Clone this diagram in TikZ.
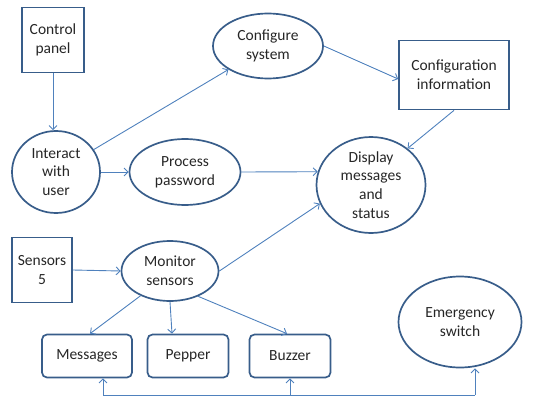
\documentclass[tikz,border=0pt]{standalone}
\usepackage{fontspec}
\setmainfont{Carlito}
\usepackage{tikz}
\usetikzlibrary{arrows.meta}
\usetikzlibrary{shapes.geometric}
\definecolor{edgeblue}{RGB}{56,93,138}
\definecolor{lineblue}{RGB}{79,129,189}
\tikzset{
  box/.style={draw=edgeblue, line width=1.7pt, inner sep=0pt, align=center},
  rbox/.style={box, rounded corners=5pt},
  oval/.style={ellipse, draw=edgeblue, line width=1.7pt, inner sep=0pt, align=center},
  link/.style={draw=lineblue, line width=0.9pt, >={Straight Barb[length=4pt,width=8pt]}}
}
\begin{document}
\begin{tikzpicture}[x=1pt, y=-1pt, font=\fontsize{15.5}{18.8}\selectfont, text=black!85]
      \useasboundingbox (0,0) rectangle (537,396);
      % boxes and ovals
      \node[box, minimum width=62pt, minimum height=65pt] (ctrl) at (53,40) {Control\\panel};
      \node[oval, minimum width=88pt, minimum height=82pt] (inter) at (56,172) {Interact\\with\\user};
      \node[oval, minimum width=111pt, minimum height=66pt] (proc) at (185,172) {Process\\password};
      \node[oval, minimum width=110pt, minimum height=65pt] (conf) at (268,46) {Configure\\system};
      \node[box, minimum width=110pt, minimum height=69pt] (info) at (454,75) {Configuration\\information};
      \node[oval, minimum width=109pt, minimum height=96pt] (disp) at (371,185) {Display\\messages\\and\\status};
      \node[box, minimum width=60pt, minimum height=65pt] (sens) at (42,270) {Sensors\\5};
      \node[oval, minimum width=97pt, minimum height=60pt] (mon) at (170,271) {Monitor\\sensors};
      \node[rbox, minimum width=90pt, minimum height=43pt] (msg) at (87,356) {Messages};
      \node[rbox, minimum width=81pt, minimum height=43pt] (pep) at (188,356) {Pepper};
      \node[rbox, minimum width=81pt, minimum height=43pt] (buz) at (290,356) {Buzzer};
      \node[oval, minimum width=123pt, minimum height=91pt] (emer) at (460,322) {Emergency\\switch};
      % arrows
      \draw[link, ->] (ctrl.south) -- (ctrl.south |- inter.north);
      \draw[link, ->] (inter) -- (conf);
      \draw[link, ->] (inter.east) -- (proc.west);
      \draw[link, ->] (conf.east) -- ([yshift=-4pt]info.west);
      \draw[link, ->] (info.south) -- (disp.45);
      \draw[link, ->] (proc.east) -- (disp.166);
      \draw[link, ->] (mon.east) -- (disp.200);
      \draw[link, ->] (sens.east) -- (mon.west);
      \draw[link, ->] (mon.220) -- ([xshift=3pt]msg.north);
      \draw[link, ->] (mon.south) -- ([xshift=-16pt]pep.north);
      \draw[link, ->] (mon.318) -- ([xshift=-3pt]buz.north);
      % bottom line
      \coordinate (busL) at (103,395);
      \coordinate (busR) at (475,395);
      \draw[link] (busL) -- (busR);
      \draw[link, ->] (busL) -- (busL |- msg.south);
      \draw[link, ->] (buz.south |- busL) -- (buz.south);
      \draw[link, ->] (busR) -- (busR |- emer.south);
    \end{tikzpicture}
\end{document}
